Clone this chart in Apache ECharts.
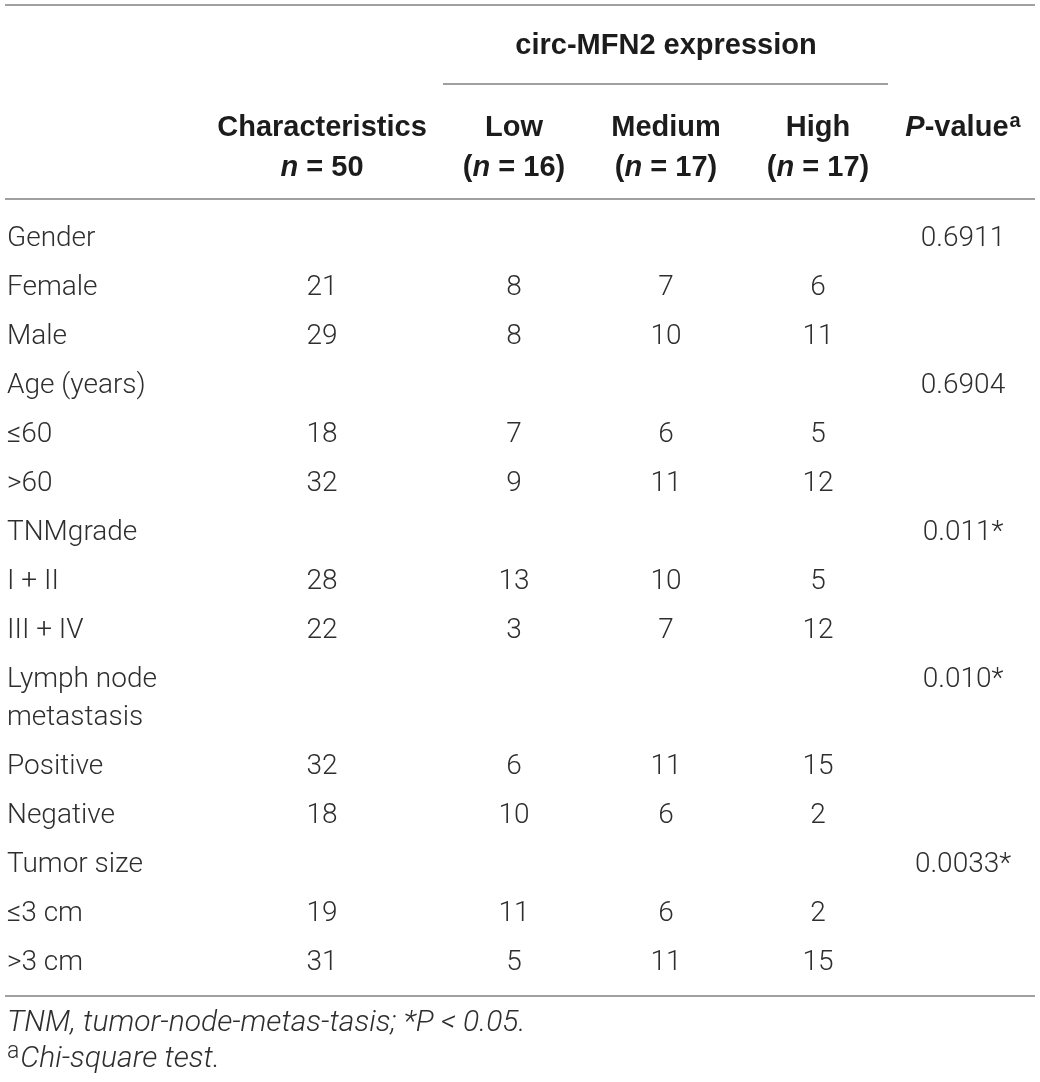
<!DOCTYPE html>
<html>
<head>
<meta charset="utf-8">
<script src="https://cdn.jsdelivr.net/npm/echarts@6/dist/echarts.min.js"></script>
<style>
html,body{margin:0;padding:0;background:#ffffff;}
#chart{width:1040px;height:1082px;}
</style>
</head>
<body>
<div id="chart"></div>
<script>
// ---------- DATA ----------
const groupTitle = 'circ-MFN2 expression';
const columnTitles = ['Characteristics', 'Low', 'Medium', 'High', 'P-value'];
const columnSizes = [50, 16, 17, 17, null];
const rowLabels = ['Gender', 'Female', 'Male', 'Age (years)', '≤60', '>60', 'TNMgrade', 'I + II', 'III + IV',
  'Lymph node\nmetastasis', 'Positive', 'Negative', 'Tumor size', '≤3 cm', '>3 cm'];
const totalN  = [null, 21, 29, null, 18, 32, null, 28, 22, null, 32, 18, null, 19, 31];
const lowN    = [null, 8, 8, null, 7, 9, null, 13, 3, null, 6, 10, null, 11, 5];
const mediumN = [null, 7, 10, null, 6, 11, null, 10, 7, null, 11, 6, null, 6, 11];
const highN   = [null, 6, 11, null, 5, 12, null, 5, 12, null, 15, 2, null, 2, 15];
const pValues = ['0.6911', '', '', '0.6904', '', '', '0.011*', '', '', '0.010*', '', '', '0.0033*', '', ''];
const footnoteText = 'TNM, tumor-node-metas-tasis; *P < 0.05.';
const footnoteTest = 'Chi-square test.';

// ---------- LAYOUT / STYLE ----------
const FONT = 'Roboto, "Liberation Sans", Arial, sans-serif';
const HEAD_FONT = '"Liberation Sans", Arial, sans-serif';
const BODY_SIZE = 28;
const HEAD_SIZE = 29;
const BODY_COLOR = '#2e2e2e';
const HEAD_COLOR = '#1c1c1c';
const RULE_COLOR = '#a0a0a0';
const L = {
  labelX: 7,
  colX: [322, 514, 666, 818, 963],
  firstRowY: 236, rowStep: 49, lineStep: 38,
  groupTitleY: 43, groupLineX: [443, 888], groupLineY: 84,
  headLine1Y: 125, headLineStep: 40,
  topRuleY: 5, headRuleY: 199, bottomRuleY: 996,
  ruleX: [5, 1035],
  footY: [1020, 1056],
  textShiftY: 3
};

// row centre (first line) positions derived from number of text lines
const rowY = [];
{
  let y = L.firstRowY;
  rowLabels.forEach((lab) => {
    rowY.push(y);
    const lines = lab.split('\n').length;
    y += (lines - 1) * L.lineStep + L.rowStep;
  });
}

const rich = {
  b:   { fontFamily: HEAD_FONT, fontSize: HEAD_SIZE, fontWeight: 'bold', fill: HEAD_COLOR, lineHeight: L.headLineStep },
  bi:  { fontFamily: HEAD_FONT, fontSize: HEAD_SIZE, fontWeight: 'bold', fontStyle: 'italic', fill: HEAD_COLOR, lineHeight: L.headLineStep },
  bsup:{ fontFamily: HEAD_FONT, fontSize: 20, fontWeight: 'bold', fill: HEAD_COLOR, padding: [0, 0, 14, 1] },
  r:   { fontFamily: FONT, fontSize: BODY_SIZE, fontWeight: 300, fill: BODY_COLOR, lineHeight: L.lineStep },
  it:  { fontFamily: FONT, fontSize: 30, fontWeight: 300, fontStyle: 'italic', fill: BODY_COLOR, lineHeight: 36 },
  sup: { fontFamily: FONT, fontSize: 23, fontWeight: 300, fill: BODY_COLOR, padding: [0, 1, 14, 0] }
};

// ---------- CELLS ----------
const cells = [];
function add(x, yCenter, text, align, lh) {
  cells.push({ x: x, y: yCenter - lh / 2 + L.textShiftY, text: text, align: align, lh: lh });
}
// group header
add(L.colX[2], L.groupTitleY, '{b|' + groupTitle + '}', 'center', L.headLineStep);
// column headers
columnTitles.forEach((t, c) => {
  let txt;
  if (c === 4) txt = '{bi|P}{b|-value}{bsup|a}';
  else {
    const nTxt = c === 0 ? '{bi|n}{b| = ' + columnSizes[c] + '}' : '{b|(}{bi|n}{b| = ' + columnSizes[c] + ')}';
    txt = '{b|' + t + '}\n' + nTxt;
  }
  add(L.colX[c], L.headLine1Y, txt, 'center', L.headLineStep);
});
// body
const cols = [totalN, lowN, mediumN, highN];
rowLabels.forEach((lab, r) => {
  const txt = lab.split('\n').map(s => '{r|' + s + '}').join('\n');
  add(L.labelX, rowY[r], txt, 'left', L.lineStep);
  cols.forEach((arr, c) => {
    if (arr[r] !== null) add(L.colX[c], rowY[r], '{r|' + arr[r] + '}', 'center', L.lineStep);
  });
  if (pValues[r]) add(L.colX[4], rowY[r], '{r|' + pValues[r] + '}', 'center', L.lineStep);
});
// footnotes
add(L.labelX, L.footY[0], '{it|' + footnoteText + '}', 'left', 36);
add(L.labelX, L.footY[1], '{sup|a}{it|' + footnoteTest + '}', 'left', 36);

// ---------- RULES ----------
const rules = [
  [L.ruleX[0], L.topRuleY, L.ruleX[1], L.topRuleY],
  [L.groupLineX[0], L.groupLineY, L.groupLineX[1], L.groupLineY],
  [L.ruleX[0], L.headRuleY, L.ruleX[1], L.headRuleY],
  [L.ruleX[0], L.bottomRuleY, L.ruleX[1], L.bottomRuleY]
];

const chart = echarts.init(document.getElementById('chart'), null, { renderer: 'canvas' });
chart.setOption({
  animation: false,
  backgroundColor: '#ffffff',
  grid: { left: 0, right: 0, top: 0, bottom: 0 },
  xAxis: { type: 'value', min: 0, max: 1040, show: false },
  yAxis: { type: 'value', min: 0, max: 1082, inverse: true, show: false },
  series: [
    {
      type: 'custom',
      silent: true,
      data: rules,
      renderItem: function (params, api) {
        const p1 = api.coord([api.value(0), api.value(1)]);
        const p2 = api.coord([api.value(2), api.value(3)]);
        return {
          type: 'line',
          shape: { x1: p1[0], y1: p1[1], x2: p2[0], y2: p2[1] },
          style: { stroke: RULE_COLOR, lineWidth: 2 }
        };
      }
    },
    {
      type: 'custom',
      silent: true,
      data: cells.map((c, i) => [c.x, c.y, i]),
      renderItem: function (params, api) {
        const c = cells[api.value(2)];
        const p = api.coord([api.value(0), api.value(1)]);
        return {
          type: 'text',
          x: p[0], y: p[1],
          style: {
            text: c.text,
            rich: rich,
            fontFamily: FONT,
            fontSize: BODY_SIZE,
            lineHeight: c.lh,
            align: c.align,
            verticalAlign: 'top',
            fill: BODY_COLOR
          }
        };
      }
    }
  ]
});
</script>
</body>
</html>
